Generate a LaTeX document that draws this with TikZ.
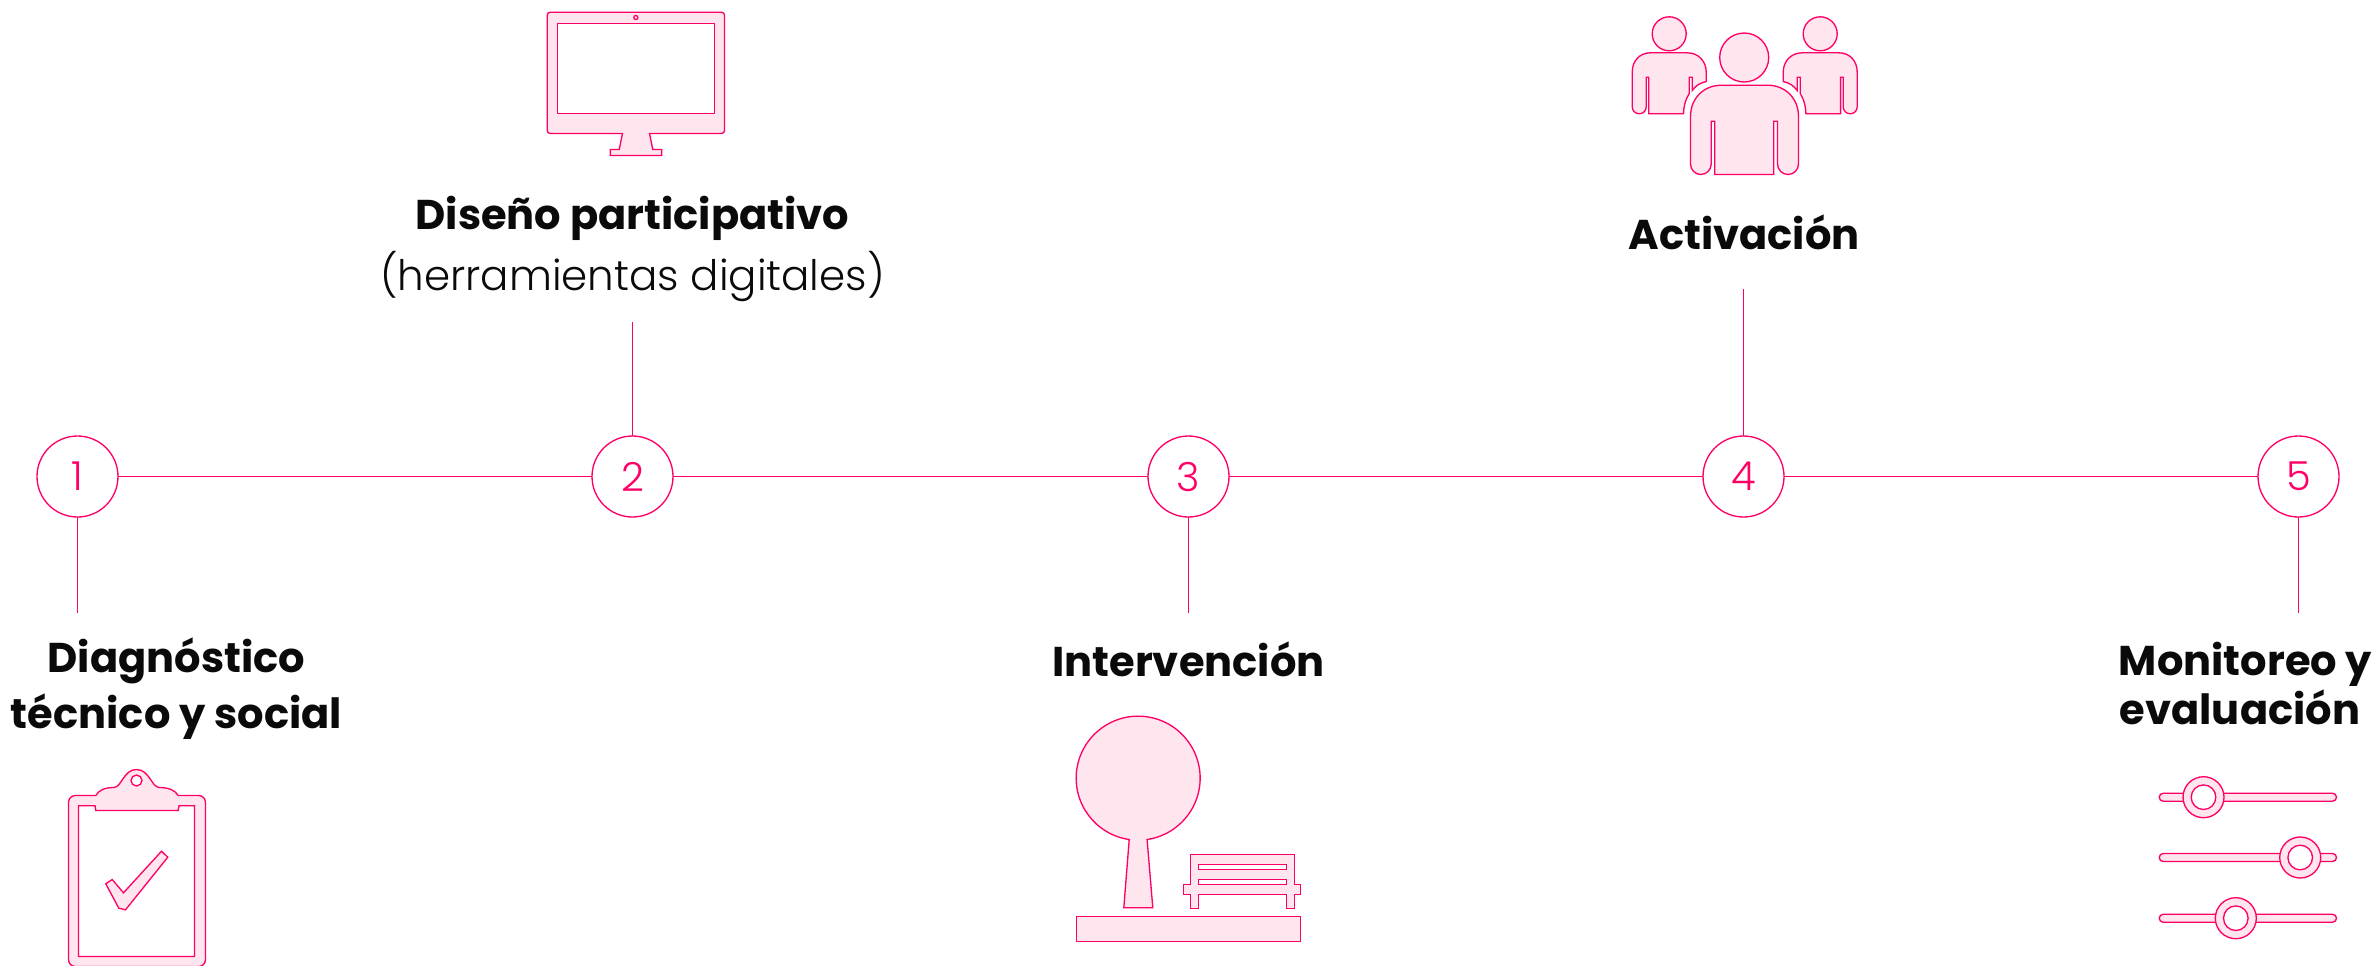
\documentclass[tikz,border=0pt]{standalone}
\usepackage{fontspec}
\setmainfont{Poppins}[BoldFont={Poppins Bold}]
\newfontfamily\lightfont{Poppins Light}
\tikzset{every picture/.style={line width=0.75pt}}
\tikzset{
  rosa/.style={draw={rgb, 255:red, 255; green, 0; blue, 102 }},
  linkline/.style={rosa,line width=0.9pt},
  stepnode/.style={circle,rosa,line width=1pt,minimum size=60.75pt,inner sep=0pt,outer sep=0pt,text={rgb, 255:red, 255; green, 0; blue, 102 },font=\lightfont\fontsize{30}{30}\selectfont},
  iconshape/.style={rosa,line width=1pt,fill={rgb, 255:red, 255; green, 229; blue, 238 },fill opacity=1},
  iconhole/.style={rosa,line width=1pt,fill=white},
  titlelabel/.style={inner sep=0pt,align=center,text={rgb, 255:red, 10; green, 10; blue, 10 },font=\bfseries\fontsize{31.2}{42}\selectfont},
}

\begin{document}
\begin{tikzpicture}[x=0.75pt,y=0.75pt,yscale=-1,xscale=1]
        \useasboundingbox (-0.5,-0.5) rectangle (2376.5,964.5);
        % Step Nodes
        \node [stepnode] (num1) at (77,476) {1};
        \node [stepnode] (num2) at (632,476) {2};
        \node [stepnode] (num3) at (1188,476) {3};
        \node [stepnode] (num4) at (1743,476) {4};
        \node [stepnode] (num5) at (2298,476) {5};
        % Free Line Ends
        \coordinate (end1) at (77,612.5);
        \coordinate (end2) at (632,321);
        \coordinate (end3) at (1188,612.5);
        \coordinate (end4) at (1743,288);
        \coordinate (end5) at (2298,612.5);
        % Lines
        \draw [linkline] (num1) -- (num2);
        \draw [linkline] (num2) -- (num3);
        \draw [linkline] (num3) -- (num4);
        \draw [linkline] (num4) -- (num5);
        \draw [linkline] (num1) -- (end1);
        \draw [linkline] (num2) -- (end2);
        \draw [linkline] (num3) -- (end3);
        \draw [linkline] (num4) -- (end4);
        \draw [linkline] (num5) -- (end5);
        % Text Node
        \node [titlelabel] (txtDiag) at (176,688.5) {Diagnóstico\\técnico y social};
        % Text Node
        \node [titlelabel,font=\bfseries\fontsize{31.2}{45.5}\selectfont] (txtDiseno) at (632,248.5) {Diseño participativo\\{\lightfont\mdseries\fontsize{31.5}{45.5}\selectfont (herramientas digitales)}};
        % Text Node
        \node [titlelabel] (txtInter) at (1188,659) {Intervención};
        % Text Node
        \node [titlelabel] (txtActiv) at (1743.5,232) {Activación};
        % Text Node
        \node [titlelabel,font=\bfseries\fontsize{31.2}{36.75}\selectfont] (txtMonit) at (2245,683) {Monitoreo y\\evaluación\hspace*{8.25pt}};
        %Clipboard
        \begin{scope}
        \clip (-0.5,-0.5) rectangle (2376.5,964.5);
        \draw [iconshape] (95.3,795) .. controls (98.3,789.3) and (105,787) .. (113.3,787) .. controls (121,787) and (123,769) .. (136,769) .. controls (149,769) and (151,787) .. (159,787) .. controls (167,787) and (174.7,789.3) .. (177.7,795) -- (198,795) .. controls (202,795) and (205,798) .. (205,802) -- (205,959) .. controls (205,963) and (202,966) .. (198,966) -- (75,966) .. controls (71,966) and (68,963) .. (68,959) -- (68,802) .. controls (68,798) and (71,795) .. (75,795) -- cycle ;
        \end{scope}
        \draw [iconhole] (78,805.3) -- (94.5,805.3) -- (95.3,810) -- (177.7,810) -- (178.5,805.3) -- (194,805.3) -- (194,956) -- (78,956) -- cycle ;
        \draw [iconhole] (136,780) circle (5.5) ;
        %Check
        \draw [iconshape] (105.3,883.3) -- (111.7,879) -- (123,892.3) -- (161,850.7) -- (167.3,856.7) -- (125,909.3) -- (118.3,907.7) -- cycle ;
        %Monitor
        \draw [iconshape] (549.7,11.7) -- (721,11.7) .. controls (722.7,11.7) and (724,13) .. (724,14.7) -- (724,130) .. controls (724,131.7) and (722.7,133) .. (721,133) -- (649,133) -- (652.3,149) -- (661.3,149) -- (661.3,155) -- (609.7,155) -- (609.7,149) -- (618.7,149) -- (622,133) -- (549.7,133) .. controls (548,133) and (546.7,131.7) .. (546.7,130) -- (546.7,14.7) .. controls (546.7,13) and (548,11.7) .. (549.7,11.7) -- cycle ;
        \draw [iconhole] (556.7,23) rectangle (714,112.7) ;
        \draw [iconhole] (635.3,17) circle (2) ;
        %Tree
        \draw [iconshape] (1128.7,839) arc [start angle=98.3,end angle=441.7,radius=62] -- (1152.3,907.3) -- (1123.3,907.3) -- cycle ;
        %Bench
        \draw [iconshape] (1189.7,854.3) -- (1293.7,854.3) -- (1293.7,884.3) -- (1300.3,884.3) -- (1300.3,894.3) -- (1293.7,894.3) -- (1293.7,907.7) -- (1285.7,907.7) -- (1285.7,894.3) -- (1197.7,894.3) -- (1197.7,907.7) -- (1189.7,907.7) -- (1189.7,894.3) -- (1183,894.3) -- (1183,884.3) -- (1189.7,884.3) -- cycle ;
        \draw [iconhole] (1197.7,864) rectangle (1286.3,869.3) ;
        \draw [iconhole] (1197.7,878.7) rectangle (1286.3,884.3) ;
        %Ground
        \draw [iconshape] (1075.7,915.7) rectangle (1300.3,940.7) ;
        %Person Left
        \draw [iconshape] (1668.7,33.3) circle (17) ;
        \draw [iconshape] (1631.7,71.7) .. controls (1631.7,60.5) and (1639,52.3) .. (1650,52.3) -- (1686.7,52.3) .. controls (1697.7,52.3) and (1705.7,60.5) .. (1705.7,71.7) -- (1705.7,81) .. controls (1699,82.5) and (1695,85.5) .. (1691.7,90) -- (1691.7,76.7) -- (1688.7,76.7) -- (1688.7,93) .. controls (1685,99) and (1683,106) .. (1683,113.3) -- (1648.3,113.3) -- (1648.3,76.7) -- (1645.7,76.7) -- (1645.7,106.3) .. controls (1645.7,110.2) and (1642.6,113.3) .. (1638.7,113.3) .. controls (1634.8,113.3) and (1631.7,110.2) .. (1631.7,106.3) -- cycle ;
        %Person Right
        \draw [iconshape] (1819.7,33.3) circle (17) ;
        \draw [iconshape] (1856.7,71.7) .. controls (1856.7,60.5) and (1849.4,52.3) .. (1838.4,52.3) -- (1801.7,52.3) .. controls (1790.7,52.3) and (1782.7,60.5) .. (1782.7,71.7) -- (1782.7,81) .. controls (1789.4,82.5) and (1793.4,85.5) .. (1796.7,90) -- (1796.7,76.7) -- (1799.7,76.7) -- (1799.7,93) .. controls (1803.4,99) and (1805.4,106) .. (1805.4,113.3) -- (1840.1,113.3) -- (1840.1,76.7) -- (1842.7,76.7) -- (1842.7,106.3) .. controls (1842.7,110.2) and (1845.8,113.3) .. (1849.7,113.3) .. controls (1853.6,113.3) and (1856.7,110.2) .. (1856.7,106.3) -- cycle ;
        %Person Centre
        \draw [iconshape] (1743.7,57) circle (24.5) ;
        \draw [iconshape] (1690,116) .. controls (1690,98) and (1703,84.7) .. (1721,84.7) -- (1767,84.7) .. controls (1785,84.7) and (1798,98) .. (1798,116) -- (1798,163.5) .. controls (1798,169.3) and (1793.3,174) .. (1787.5,174) .. controls (1781.7,174) and (1777,169.3) .. (1777,163.5) -- (1777,120.7) -- (1773.3,120.7) -- (1773.3,174) -- (1714.3,174) -- (1714.3,120.7) -- (1710.7,120.7) -- (1710.7,163.5) .. controls (1710.7,169.3) and (1706,174) .. (1700.3,174) .. controls (1694.6,174) and (1690,169.3) .. (1690,163.5) -- cycle ;
        %Slider Top
        \draw [iconshape,rounded corners=3pt] (2158.7,792.7) rectangle (2336,800.7) ;
        \draw [iconshape] (2203,796.7) circle (20.5) ;
        \draw [iconhole] (2203,796.7) circle (12.3) ;
        %Slider Middle
        \draw [iconshape,rounded corners=3pt] (2158.7,853) rectangle (2336,861) ;
        \draw [iconshape] (2299.7,857) circle (20.5) ;
        \draw [iconhole] (2299.7,857) circle (12.3) ;
        %Slider Bottom
        \draw [iconshape,rounded corners=3pt] (2158.7,913.7) rectangle (2336,921.7) ;
        \draw [iconshape] (2235.3,917.7) circle (20.5) ;
        \draw [iconhole] (2235.3,917.7) circle (12.3) ;
\end{tikzpicture}
\end{document}
